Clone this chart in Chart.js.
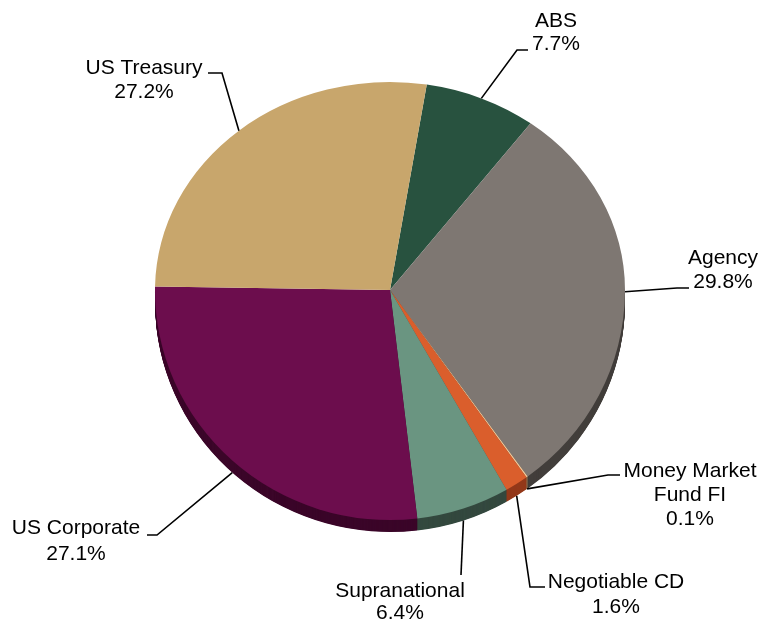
<!DOCTYPE html>
<html>
<head>
<meta charset="utf-8">
<script src="https://cdn.jsdelivr.net/npm/chart.js@4/dist/chart.umd.min.js"></script>
<style>
  html, body { margin: 0; padding: 0; background: #ffffff; }
  #wrap { width: 763px; height: 625px; }
</style>
</head>
<body>
<div id="wrap"><canvas id="c" width="763" height="625"></canvas></div>
<script>
// Portfolio sector allocation (percent of total)
const categories = ['ABS', 'Agency', 'Money Market Fund FI', 'Negotiable CD', 'Supranational', 'US Corporate', 'US Treasury'];
const shareValues = [7.7, 29.8, 0.1, 1.6, 6.4, 27.1, 27.2];

// Slice colours: top face and the darker side wall
const topColors  = ['#28523f', '#7e7772', '#f0c99c', '#da5e2c', '#6a9581', '#6c0d4d', '#c8a66c'];
const sideColors = ['#1a3328', '#423e3b', '#8a6a4a', '#94391a', '#34493f', '#3b0629', '#7a6440'];

// Label text lines, text centre x, baselines, and leader-line path (after the pie anchor)
const labelLayout = [
  { lines: ['ABS'],                     x: 556, base: [27, 50],        path: [[517, 50], [528, 50]] },
  { lines: ['Agency'],                  x: 723, base: [264, 288],      path: [[677, 288], [689, 288]] },
  { lines: ['Money Market', 'Fund FI'], x: 690, base: [477, 501, 525], path: [[608, 475], [620, 475]] },
  { lines: ['Negotiable CD'],           x: 616, base: [588, 613],      path: [[530, 587], [545, 587]] },
  { lines: ['Supranational'],           x: 400, base: [597, 619],      path: [[461, 575]] },
  { lines: ['US Corporate'],            x: 76,  base: [534, 560],      path: [[157, 535], [147, 535]] },
  { lines: ['US Treasury'],             x: 144, base: [74, 98],        path: [[222, 73], [208, 73]] }
];

// Perspective tilt: the far (upper) half is squashed more than the near half
const TILT_FAR = 0.885;
const TILT_NEAR = 0.979;
const DEPTH = 12;     // thickness of the side wall in px

function squash(ctx, cx, cy, s) {
  ctx.translate(cx, cy);
  ctx.scale(1, s);
  ctx.translate(-cx, -cy);
}

const tiltPlugin = {
  id: 'tiltPie',
  beforeDatasetsDraw(chart) {
    // side wall, visible below the near half of the face
    const meta = chart.getDatasetMeta(0);
    const ctx = chart.ctx;
    const cx = meta.data[0].x, cy = meta.data[0].y;
    ctx.save();
    ctx.beginPath();
    ctx.rect(0, cy, chart.width, chart.height - cy);
    ctx.clip();
    squash(ctx, cx, cy, TILT_NEAR);
    for (let d = DEPTH; d >= 0.5; d -= 0.5) {
      meta.data.forEach((arc, i) => {
        ctx.beginPath();
        ctx.moveTo(cx, cy + d / TILT_NEAR);
        ctx.arc(cx, cy + d / TILT_NEAR, arc.outerRadius, arc.startAngle, arc.endAngle);
        ctx.closePath();
        ctx.fillStyle = sideColors[i];
        ctx.fill();
      });
    }
    ctx.restore();
  },
  beforeDatasetDraw(chart, args) {
    const meta = args.meta;
    const ctx = chart.ctx;
    const cx = meta.data[0].x, cy = meta.data[0].y;
    // far half of the face
    ctx.save();
    ctx.beginPath();
    ctx.rect(0, 0, chart.width, cy);
    ctx.clip();
    squash(ctx, cx, cy, TILT_FAR);
    meta.controller.draw();
    ctx.restore();
    // near half is drawn by the normal dataset pass
    ctx.save();
    ctx.beginPath();
    ctx.rect(0, cy, chart.width, chart.height - cy);
    ctx.clip();
    squash(ctx, cx, cy, TILT_NEAR);
  },
  afterDatasetDraw(chart) {
    chart.ctx.restore();
  }
};

const labelPlugin = {
  id: 'pieLabels',
  afterDraw(chart) {
    const meta = chart.getDatasetMeta(0);
    const ctx = chart.ctx;
    ctx.save();
    ctx.strokeStyle = '#000000';
    ctx.lineWidth = 1.6;
    ctx.fillStyle = '#000000';
    ctx.font = '21px "Liberation Sans", Arial, sans-serif';
    ctx.textAlign = 'center';
    ctx.textBaseline = 'alphabetic';
    meta.data.forEach((arc, i) => {
      const lay = labelLayout[i];
      const mid = (arc.startAngle + arc.endAngle) / 2;
      const s = Math.sin(mid);
      const ax = arc.x + arc.outerRadius * Math.cos(mid);
      let ay = arc.y + (s < 0 ? TILT_FAR : TILT_NEAR) * arc.outerRadius * s;
      if (s > 0.3) ay += DEPTH;
      ctx.beginPath();
      ctx.moveTo(ax, ay);
      lay.path.forEach(p => ctx.lineTo(p[0], p[1]));
      ctx.stroke();
      const texts = lay.lines.concat([shareValues[i].toFixed(1) + '%']);
      texts.forEach((t, k) => ctx.fillText(t, lay.x, lay.base[k]));
    });
    ctx.restore();
  }
};

new Chart(document.getElementById('c'), {
  type: 'pie',
  data: {
    labels: categories,
    datasets: [{
      data: shareValues,
      backgroundColor: topColors,
      borderWidth: 0,
      offset: 0,
      hoverOffset: 0,
      clip: false
    }]
  },
  options: {
    responsive: false,
    animation: false,
    rotation: 9,
    layout: { padding: { left: 155, right: 138, top: 55, bottom: 100 } },
    plugins: {
      legend: { display: false },
      tooltip: { enabled: false }
    },
    events: []
  },
  plugins: [tiltPlugin, labelPlugin]
});
</script>
</body>
</html>
